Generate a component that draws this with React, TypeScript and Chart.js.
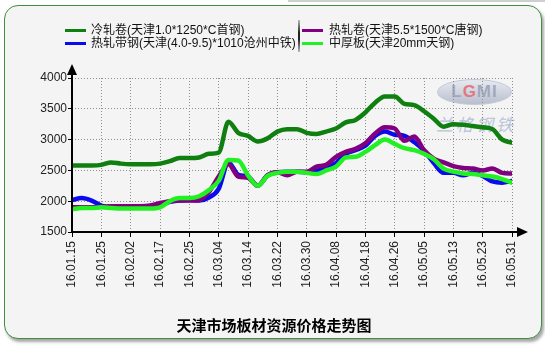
import React, { useEffect, useRef } from "react";
import { Chart, registerables } from "chart.js";

Chart.register(...registerables);

// ---- data ----
const tickLabels = [
  "16.01.15", "16.01.25", "16.02.02", "16.02.17", "16.02.25", "16.03.04",
  "16.03.14", "16.03.22", "16.03.30", "16.04.08", "16.04.18", "16.04.26",
  "16.05.05", "16.05.13", "16.05.23", "16.05.31",
];
const pointsPerTick = 3;

const coldRolled = [
  2580, 2580, 2580, 2590, 2630, 2610, 2600, 2600, 2600, 2610,
  2650, 2700, 2700, 2710, 2770, 2790, 3290, 3110, 3060, 2970,
  3020, 3130, 3170, 3170, 3110, 3090, 3130, 3180, 3280, 3320,
  3440, 3600, 3700, 3700, 3580, 3560, 3460, 3340, 3210, 3250,
  3240, 3220, 3200, 3170, 3000, 2950,
];
const hotRolled = [
  1900, 1900, 1900, 1910, 1920, 1920, 1920, 1920, 1930, 1970,
  2000, 2010, 2010, 2020, 2150, 2400, 2600, 2400, 2380, 2250,
  2420, 2470, 2420, 2480, 2480, 2560, 2590, 2720, 2800, 2850,
  2940, 3100, 3200, 3180, 2980, 3050, 2830, 2690, 2630, 2570,
  2540, 2530, 2500, 2530, 2460, 2450,
];
const hotStrip = [
  2020, 2050, 2010, 1930, 1900, 1900, 1900, 1900, 1900, 1930,
  1990, 2010, 2020, 2010, 2060, 2200, 2630, 2430, 2400, 2250,
  2420, 2470, 2480, 2480, 2470, 2490, 2560, 2620, 2770, 2830,
  2900, 3060, 3130, 3080, 3060, 2960, 2820, 2620, 2460, 2460,
  2420, 2460, 2410, 2320, 2300, 2330,
];
const plate = [
  1870, 1890, 1890, 1900, 1890, 1880, 1880, 1880, 1880, 1900,
  2000, 2050, 2050, 2080, 2180, 2330, 2670, 2660, 2420, 2250,
  2410, 2460, 2480, 2480, 2460, 2440, 2500, 2560, 2710, 2720,
  2800, 2910, 3000, 2930, 2860, 2830, 2770, 2680, 2530, 2480,
  2450, 2440, 2420, 2400, 2360, 2300,
];

const seriesNames = [
  "冷轧卷(天津1.0*1250*C首钢)",
  "热轧卷(天津5.5*1500*C唐钢)",
  "热轧带钢(天津(4.0-9.5)*1010沧州中铁)",
  "中厚板(天津20mm天钢)",
];
const seriesColors = ["#0f800f", "#800080", "#0a0aee", "#22f022"];
const chartTitle = "天津市场板材资源价格走势图";
const yMin = 1500;
const yMax = 4000;
const yStep = 500;

const FONT = '"Liberation Sans", Arial, "Noto Sans CJK SC", sans-serif';

const axesPlugin = {
  id: "arrowAxes",
  afterDraw(chart: any) {
    const { ctx, chartArea } = chart;
    const x0 = chartArea.left;
    const y0 = chartArea.bottom;
    ctx.save();
    ctx.strokeStyle = "#000";
    ctx.fillStyle = "#000";
    ctx.lineWidth = 2;
    ctx.beginPath();
    ctx.moveTo(x0, y0);
    ctx.lineTo(x0, chartArea.top - 6);
    ctx.moveTo(x0, y0);
    ctx.lineTo(chartArea.right + 8, y0);
    ctx.stroke();
    // top arrow
    ctx.beginPath();
    ctx.moveTo(x0 - 5, chartArea.top - 3);
    ctx.lineTo(x0 + 5, chartArea.top - 3);
    ctx.lineTo(x0, chartArea.top - 14);
    ctx.closePath();
    ctx.fill();
    // right arrow
    ctx.beginPath();
    ctx.moveTo(chartArea.right + 5, y0 - 5);
    ctx.lineTo(chartArea.right + 5, y0 + 5);
    ctx.lineTo(chartArea.right + 16, y0);
    ctx.closePath();
    ctx.fill();
    ctx.restore();
  },
};

export default function App() {
  const canvasRef = useRef<HTMLCanvasElement | null>(null);

  useEffect(() => {
    if (!canvasRef.current) return;
    const series = [coldRolled, hotRolled, hotStrip, plate];
    const orders = [3, 1, 2, 0];
    const chart = new Chart(canvasRef.current, {
      type: "line",
      data: {
        datasets: series.map((arr, k) => ({
          label: seriesNames[k],
          data: arr.map((v, i) => ({ x: i, y: v })),
          borderColor: seriesColors[k],
          backgroundColor: seriesColors[k],
          borderWidth: 4.5,
          pointRadius: 0,
          cubicInterpolationMode: "monotone" as const,
          fill: false,
          order: orders[k],
          borderCapStyle: "round" as const,
          borderJoinStyle: "round" as const,
        })),
      },
      options: {
        responsive: false,
        animation: false,
        devicePixelRatio: 1,
        layout: { padding: { top: 78, right: 33, left: 0, bottom: 0 } },
        plugins: {
          legend: { display: false },
          title: { display: false },
          tooltip: { enabled: false },
        },
        scales: {
          x: {
            type: "linear",
            min: 0,
            max: (tickLabels.length - 1) * pointsPerTick,
            afterFit: (scale: any) => {
              scale.height = 114;
            },
            afterBuildTicks: (scale: any) => {
              scale.ticks = tickLabels.map((_, i) => ({ value: i * pointsPerTick }));
            },
            ticks: {
              autoSkip: false,
              maxRotation: 90,
              minRotation: 90,
              padding: 4,
              color: "#222",
              font: { family: FONT, size: 12 },
              callback: (v: any) => tickLabels[Math.round(Number(v) / pointsPerTick)] ?? "",
            },
            grid: {
              color: "#8f8f8f",
              lineWidth: 1,
              tickColor: "#000",
              tickLength: 5,
              tickWidth: 1,
            },
            border: { display: false, dash: [1, 2] },
          },
          y: {
            min: yMin,
            max: yMax,
            afterFit: (scale: any) => {
              scale.width = 72;
            },
            ticks: {
              stepSize: yStep,
              padding: 1,
              color: "#222",
              font: { family: FONT, size: 12 },
              callback: (v: any) => String(v),
            },
            grid: {
              color: "#8f8f8f",
              lineWidth: 1,
              tickColor: "#000",
              tickLength: 4,
              tickWidth: 1,
            },
            border: { display: false, dash: [1, 2] },
          },
        },
      },
      plugins: [axesPlugin],
    } as any);
    return () => chart.destroy();
  }, []);

  const legendText: React.CSSProperties = {
    position: "absolute",
    fontFamily: FONT,
    fontSize: 12,
    lineHeight: "14px",
    color: "#111",
    whiteSpace: "nowrap",
  };
  const swatch = (color: string, left: number, top: number): React.CSSProperties => ({
    position: "absolute",
    left,
    top,
    width: 21,
    height: 3,
    background: color,
  });

  return (
    <div
      style={{
        position: "fixed",
        left: 0,
        top: 0,
        width: 545,
        height: 346,
        background: "#fff",
        overflow: "hidden",
      }}
    >
      <div style={{ position: "absolute", left: 288, top: 0, width: 257, height: 2, background: "#cfcfcf" }} />
      <div
        style={{
          position: "absolute",
          left: 4,
          top: 5,
          width: 538,
          height: 334,
          boxSizing: "border-box",
          border: "1px solid #3f8f3f",
          borderRadius: 14,
          background: "#f4f4f4",
          boxShadow: "2px 3px 3px rgba(0,0,0,0.35)",
        }}
      />
      {/* watermark */}
      <div
        style={{
          position: "absolute",
          left: 437,
          top: 79,
          width: 73,
          height: 24,
          borderRadius: "50%",
          background: "linear-gradient(#e4e8f0, #aab2c6)",
          border: "1px solid #b8bfce",
          opacity: 0.8,
          fontFamily: FONT,
          fontWeight: "bold",
          fontSize: 17,
          lineHeight: "24px",
          textAlign: "center",
          letterSpacing: 1,
          color: "#8d96ad",
        }}
      >
        <span>L</span>
        <span style={{ color: "#e05a6a" }}>G</span>
        <span>M</span>
        <span>I</span>
      </div>
      <div
        style={{
          position: "absolute",
          left: 436,
          top: 111,
          fontFamily: '"Noto Sans CJK SC", sans-serif',
          fontSize: 17,
          fontStyle: "italic",
          letterSpacing: 3,
          color: "rgba(120,145,185,0.5)",
          whiteSpace: "nowrap",
        }}
      >
        兰格钢铁
      </div>
      <canvas
        ref={canvasRef}
        width={545}
        height={346}
        style={{ position: "absolute", left: 0, top: 0, width: 545, height: 346 }}
      />
      {/* legend */}
      <div style={swatch(seriesColors[0], 65, 29)} />
      <div style={{ ...legendText, left: 91, top: 23 }}>{seriesNames[0]}</div>
      <div style={swatch(seriesColors[2], 65, 42)} />
      <div style={{ ...legendText, left: 91, top: 36 }}>{seriesNames[2]}</div>
      <div
        style={{
          position: "absolute",
          left: 298,
          top: 20,
          width: 2,
          height: 32,
          background: "linear-gradient(#bbb, #222 40%, #222 60%, #bbb)",
        }}
      />
      <div style={swatch(seriesColors[1], 302, 29)} />
      <div style={{ ...legendText, left: 329, top: 23 }}>{seriesNames[1]}</div>
      <div style={swatch(seriesColors[3], 302, 42)} />
      <div style={{ ...legendText, left: 329, top: 36 }}>{seriesNames[3]}</div>
      {/* title */}
      <div
        style={{
          position: "absolute",
          left: 0,
          top: 315,
          width: 548,
          textAlign: "center",
          fontFamily: '"Noto Sans CJK SC", sans-serif',
          fontWeight: "bold",
          fontSize: 15,
          lineHeight: "20px",
          color: "#000",
        }}
      >
        {chartTitle}
      </div>
    </div>
  );
}
